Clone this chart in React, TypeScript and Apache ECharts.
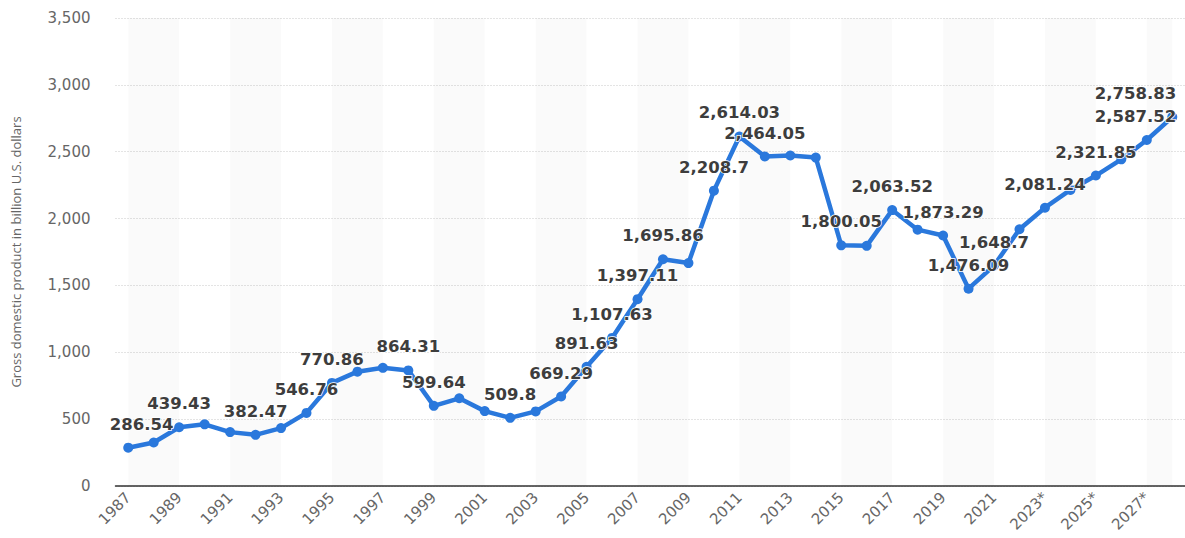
import React, { useEffect, useRef } from "react";
import * as echarts from "echarts";

const categories = [
  "1987", "1988", "1989", "1990", "1991", "1992", "1993", "1994", "1995", "1996",
  "1997", "1998", "1999", "2000", "2001", "2002", "2003", "2004", "2005", "2006",
  "2007", "2008", "2009", "2010", "2011", "2012", "2013", "2014", "2015", "2016",
  "2017", "2018", "2019", "2020", "2021", "2022", "2023*", "2024*", "2025*", "2026*",
  "2027*", "2028*",
];

const gdpValues = [
  286.54, 325, 439.43, 461, 403, 382.47, 433, 546.76, 770.86, 855,
  884, 864.31, 599.64, 656, 560, 509.8, 558, 669.29, 891.63, 1107.63,
  1397.11, 1695.86, 1667, 2208.7, 2614.03, 2464.05, 2472, 2456, 1800.05, 1796,
  2063.52, 1917, 1873.29, 1476.09, 1648.7, 1920, 2081.24, 2214, 2321.85, 2443,
  2587.52, 2758.83,
];

const labeledYears = [
  "1987", "1989", "1992", "1994", "1995", "1998", "1999", "2002", "2004", "2005",
  "2006", "2007", "2008", "2010", "2011", "2012", "2015", "2017", "2019", "2020",
  "2021", "2023*", "2025*", "2027*", "2028*",
];

const bandStartYears = ["1987", "1991", "1995", "1999", "2003", "2007", "2011", "2015", "2019", "2023*", "2027*"];

const yAxisTitle = "Gross domestic product in billion U.S. dollars";

const fmt = (v: number) =>
  v.toLocaleString("en-US", { maximumFractionDigits: 2 });

export default function App() {
  const ref = useRef<HTMLDivElement>(null);

  useEffect(() => {
    if (!ref.current) return;
    const chart = echarts.init(ref.current, undefined, { renderer: "svg" });

    const bands = bandStartYears.map((s) => {
      const i = categories.indexOf(s);
      const j = Math.min(i + 2, categories.length - 1);
      return [{ xAxis: categories[i] }, { xAxis: categories[j] }];
    });

    const plotLeft = 113;
    const plotRight = 1181;

    chart.setOption({
      animation: false,
      grid: { left: 115.5, right: 0, top: 18, bottom: 52, containLabel: false },
      xAxis: {
        type: "category",
        data: categories,
        boundaryGap: true,
        axisLine: { show: true, lineStyle: { color: "#333", width: 1.5 } },
        axisTick: { show: false },
        axisLabel: {
          interval: 1,
          rotate: 45,
          margin: 9,
          color: "#666",
          fontFamily: "DejaVu Sans",
          fontSize: 15,
        },
        splitLine: { show: false },
      },
      yAxis: {
        type: "value",
        min: 0,
        max: 3500,
        interval: 500,
        name: yAxisTitle,
        nameLocation: "middle",
        nameRotate: 90,
        nameGap: 93,
        nameTextStyle: {
          color: "#666",
          fontFamily: "Open Sans",
          fontSize: 13,
        },
        axisLine: { show: false },
        axisTick: { show: false },
        axisLabel: {
          margin: 25,
          color: "#666",
          fontFamily: "DejaVu Sans",
          fontSize: 15,
          formatter: (v: number) => fmt(v),
        },
        splitLine: {
          show: true,
          lineStyle: { color: "#c8c8c8", type: [1, 2], width: 1 },
        },
      },
      series: [
        {
          type: "line",
          data: gdpValues.map((v, i) => ({
            value: v,
            label: { show: labeledYears.includes(categories[i]) },
          })),
          symbol: "circle",
          symbolSize: 10,
          lineStyle: { color: "#2a78dc", width: 4.5 },
          itemStyle: { color: "#2a78dc" },
          label: {
            show: false,
            position: "top",
            distance: 10,
            offset: [4, 0],
            color: "#3d3d3d",
            fontFamily: "DejaVu Sans",
            fontWeight: "bold",
            fontSize: 16.5,
            textBorderColor: "#fff",
            textBorderWidth: 1.5,
            formatter: (p: any) => fmt(p.value),
          },
          labelLayout: (params: any) => {
            const r = params.labelRect;
            if (!r) return {};
            let dx = 0;
            if (r.x < plotLeft) dx = plotLeft - r.x;
            else if (r.x + r.width > plotRight) dx = plotRight - (r.x + r.width);
            return { dx };
          },
          markArea: {
            silent: true,
            itemStyle: { color: "rgba(0,0,0,0.018)" },
            data: bands,
          },
          z: 3,
        },
      ],
    });

    return () => chart.dispose();
  }, []);

  return (
    <div
      ref={ref}
      style={{ position: "absolute", left: 0, top: 0, width: 1185, height: 538 }}
    />
  );
}
